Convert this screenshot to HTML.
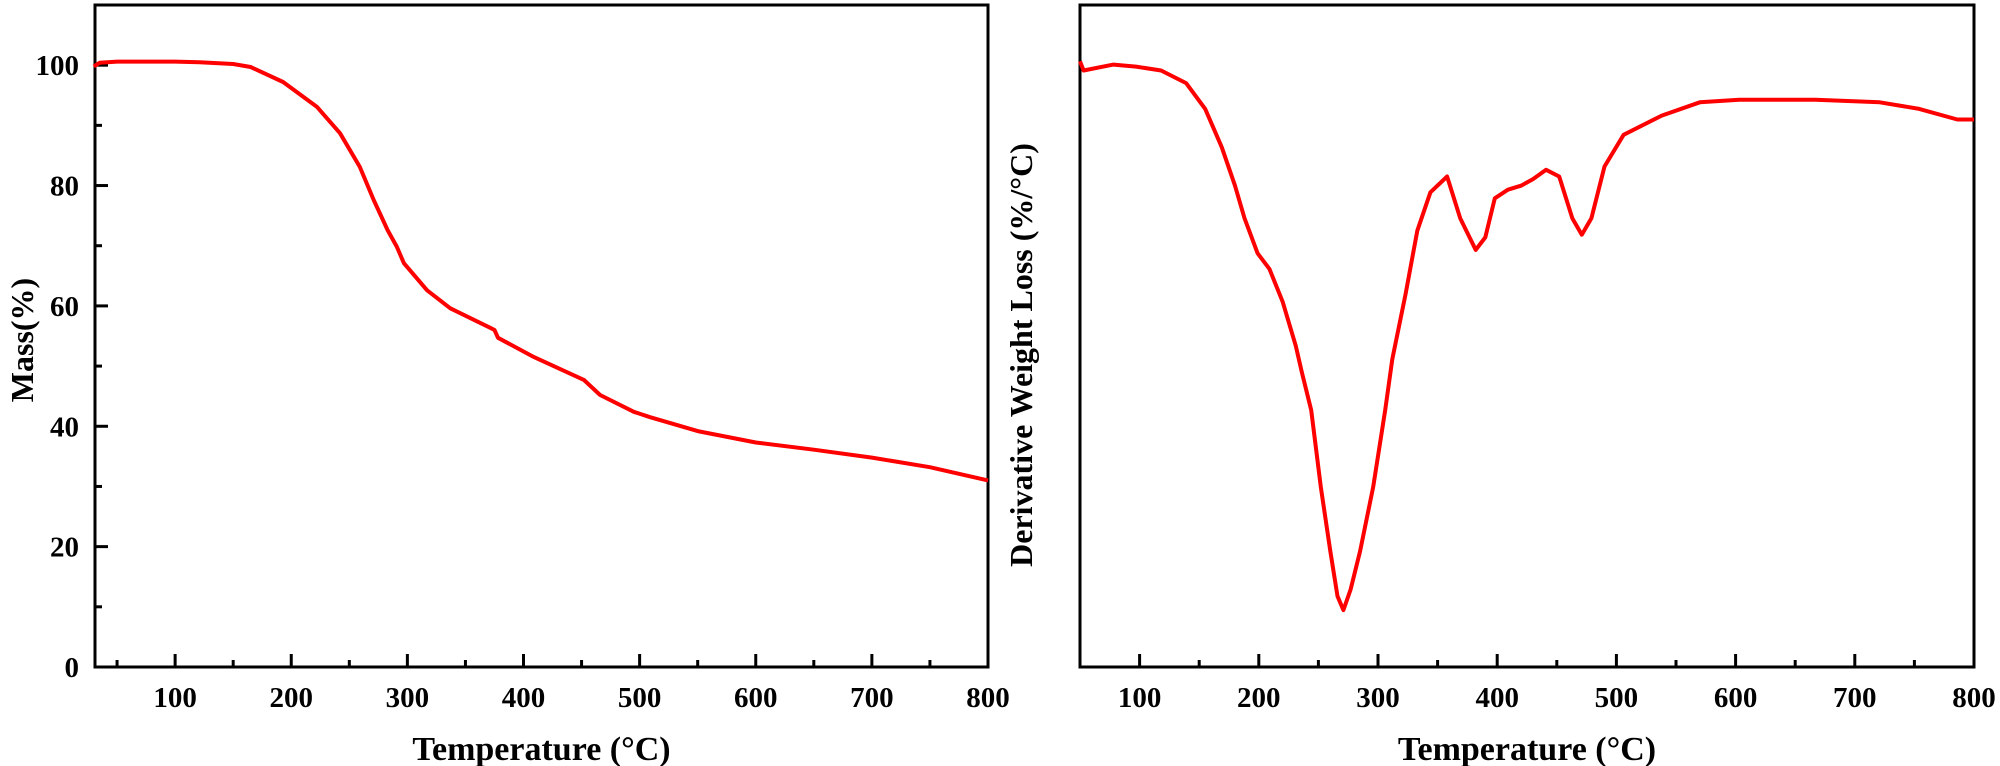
<!DOCTYPE html>
<html><head><meta charset="utf-8"><style>
html,body{margin:0;padding:0;background:#fff;}
svg{display:block;}
text{font-family:"Liberation Serif",serif;font-weight:bold;fill:#000;}
</style></head><body>
<svg id="chart" width="2000" height="766" viewBox="0 0 2000 766" xmlns="http://www.w3.org/2000/svg">
<g id="left"></g>
<g id="right"></g>
</svg>
<script>
const massTemps = [30,35,50,100,121,150,165,193,222,242,259,271,283,291,297,317,337,372,375,378,409,452,466,495,509,550,600,650,700,750,800];
const massValues = [99.8,100.4,100.6,100.6,100.5,100.2,99.7,97.2,93.1,88.7,83.1,77.6,72.6,69.8,67.1,62.6,59.6,56.3,56.0,54.7,51.5,47.7,45.2,42.4,41.5,39.2,37.3,36.1,34.8,33.2,31.0];
const massYTicks = [0,20,40,60,80,100];
const xTicks = [100,200,300,400,500,600,700,800];
const dtgTemps = [50,53,78,97,118,139,155,169,180,188,199,209,220,231,236,244,252,260,266,271,277,285,296,306,312,323,333,344,358,369,382,390,398,409,420,430,441,452,463,471,479,490,506,538,570,603,667,721,754,786,800];
const dtgValues = [91.5,90.1,91,90.7,90.1,88.2,84.3,78.5,72.7,67.8,62.5,60.1,55.2,48.5,44.6,38.8,27.2,17.5,10.7,8.6,11.7,17.5,27.2,38.8,46.5,56.2,65.9,71.7,74.1,67.8,63,64.9,70.8,72.1,72.7,73.7,75.1,74.1,67.8,65.3,67.8,75.6,80.4,83.3,85.3,85.7,85.7,85.3,84.3,82.7,82.7];

const NS="http://www.w3.org/2000/svg";
function mk(parent,tag,attrs,txt){const e=document.createElementNS(NS,tag);for(const k in attrs)e.setAttribute(k,attrs[k]);if(txt!==undefined)e.textContent=txt;parent.appendChild(e);return e;}

function panel(g,o){
  const sx=v=>o.x0+(v-o.xmin)/(o.xmax-o.xmin)*(o.x1-o.x0);
  const sy=v=>o.y1-(v-o.ymin)/(o.ymax-o.ymin)*(o.y1-o.y0);
  const frame=mk(g,'rect',{x:o.x0,y:o.y0,width:o.x1-o.x0,height:o.y1-o.y0,fill:'none',stroke:'#000','stroke-width':3});
  
  
  for(let t=50;t<=o.xmax;t+=50){
    if(t<o.xmin)continue;
    const major=t%100===0;
    const tk=mk(g,'line',{x1:sx(t),x2:sx(t),y1:o.y1,y2:o.y1-(major?13:7),stroke:'#000','stroke-width':3});
    
    
  }
  xTicks.forEach(t=>{
    const l=mk(g,'text',{x:sx(t),y:707,'font-size':29,'text-anchor':'middle'},String(t));
    
    
  });
  if(o.yticks){
    for(let v=10;v<o.ymax;v+=10){
      const major=v%20===0;
      const tk=mk(g,'line',{x1:o.x0,x2:o.x0+(major?13:7),y1:sy(v),y2:sy(v),stroke:'#000','stroke-width':3});
      
      
    }
    o.yticks.forEach(v=>{
      const l=mk(g,'text',{x:79,y:sy(v)+10,'font-size':29,'text-anchor':'end'},String(v));
      
      
    });
  }
  const d=o.xs.map((t,i)=>(i?'L':'M')+sx(t).toFixed(1)+','+sy(o.ys[i]).toFixed(1)).join(' ');
  const p=mk(g,'path',{d:d,fill:'none',stroke:'#ff0000','stroke-width':4,'stroke-linejoin':'round'});
  
  
  const xt=mk(g,'text',{x:(o.x0+o.x1)/2,y:760,'font-size':34,'text-anchor':'middle'},'Temperature (°C)');
  
  
  const yt=mk(g,'text',{x:0,y:0,'font-size':o.ytSize,'text-anchor':'middle',transform:`translate(${o.ytx},${o.yty}) rotate(-90)`},o.ytitle);
  
  
}
panel(document.getElementById('left'),{x0:95,x1:988,y0:5,y1:667,xmin:31,xmax:800,ymin:0,ymax:110,yticks:massYTicks,xs:massTemps,ys:massValues,lineName:'mass-curve',ytitle:'Mass(%)',ytx:33,yty:340,ytSize:32});
panel(document.getElementById('right'),{x0:1080,x1:1974,y0:5,y1:667,xmin:50,xmax:800,ymin:0,ymax:100,yticks:null,xs:dtgTemps,ys:dtgValues,lineName:'dtg-curve',ytitle:'Derivative Weight Loss (%/°C)',ytx:1032,yty:355,ytSize:32});
</script>
</body></html>
